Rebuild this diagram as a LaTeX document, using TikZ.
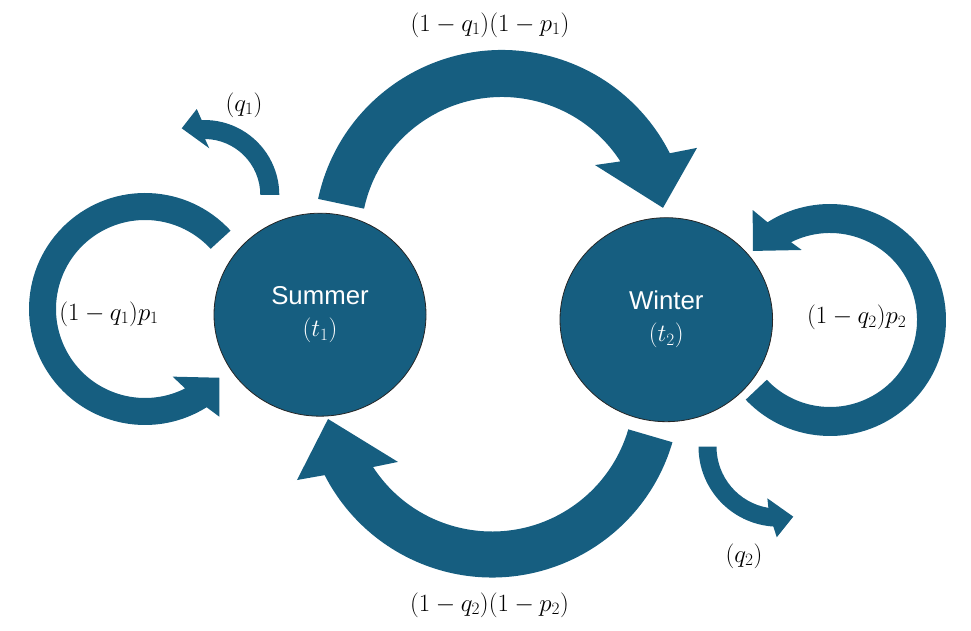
\documentclass[tikz,border=0pt]{standalone}
\usepackage{fontspec}
\usetikzlibrary{shapes.geometric}
\newfontfamily\statefont{Liberation Sans}
\definecolor{seablue}{RGB}{22,94,128}
% #1 centre, #2 inner radius, #3 outer radius, #4 start angle,
% #5/#6 outer/inner end angle, #7 outer wing, #8 tip, #9 inner wing
\newcommand{\bentarrow}[9]{%
  \fill[seablue,shift={(#1)}] (#4:#3) arc[start angle=#4,end angle=#5,radius=#3]
    -- (#7) -- (#8) -- (#9) -- (#6:#2) arc[start angle=#6,end angle=#4,radius=#2] -- cycle;}
\begin{document}
\begin{tikzpicture}[x=1pt,y=1pt,
  state/.style={ellipse,fill=seablue,draw=black!85,line width=0.8pt,inner sep=0pt,
    text=white,align=center,font=\fontsize{23}{32}\selectfont},
  prob/.style={inner sep=0pt,font=\fontsize{24}{28}\selectfont}]
\useasboundingbox (0,0) rectangle (971,631);
\coordinate (topc) at (502,393);
\coordinate (botc) at (492,241.5);
\coordinate (sloop) at (145,322);
\coordinate (wloop) at (830,311);
\coordinate (qa) at (204.3,436);
\coordinate (qb) at (778.5,184.3);
\bentarrow{topc}{141}{188}{168}{26.8}{32.9}{24.8:214.8}{10.6:163.8}{38.1:118.2}
\bentarrow{botc}{142}{188}{-16.3}{-152.9}{-146.9}{-155.1:215}{-169.8:166.6}{-142.4:118.7}
\bentarrow{sloop}{89}{116}{42.5}{302.1}{296.8}{304.6:130.8}{317.2:101.2}{292.25:73.1}
\bentarrow{wloop}{87}{116}{-136.6}{122.6}{116.6}{125.1:134.4}{138.2:103.6}{112:75.5}
\bentarrow{qa}{56}{75}{0}{92}{89.3}{95:86.3}{108.7:70.4}{83.9:47}
\bentarrow{qb}{62}{80}{180}{266.3}{260.6}{268.9:90.6}{281.9:71.5}{257.8:52.8}
\node[state,minimum width=212,minimum height=203] (summer) at (320,316.3)
  {{\statefont\fontsize{25.8}{32}\selectfont Summer}\\$(t_1)$};
\node[state,minimum width=212.6,minimum height=204] (winter) at (666.3,311.3)
  {{\statefont\fontsize{25.8}{32}\selectfont Winter}\\$(t_2)$};
\node[prob] (sw) at (490,606) {$(1-q_1)(1-p_1)$};
\node[prob] (ws) at (489.5,26) {$(1-q_2)(1-p_2)$};
\node[prob] (ss) at (109,317) {$(1-q_1)p_1$};
\node[prob] (ww) at (856.7,313.5) {$(1-q_2)p_2$};
\node[prob] (sout) at (244,526) {$(q_1)$};
\node[prob] (wout) at (744,75) {$(q_2)$};
\end{tikzpicture}
\end{document}
